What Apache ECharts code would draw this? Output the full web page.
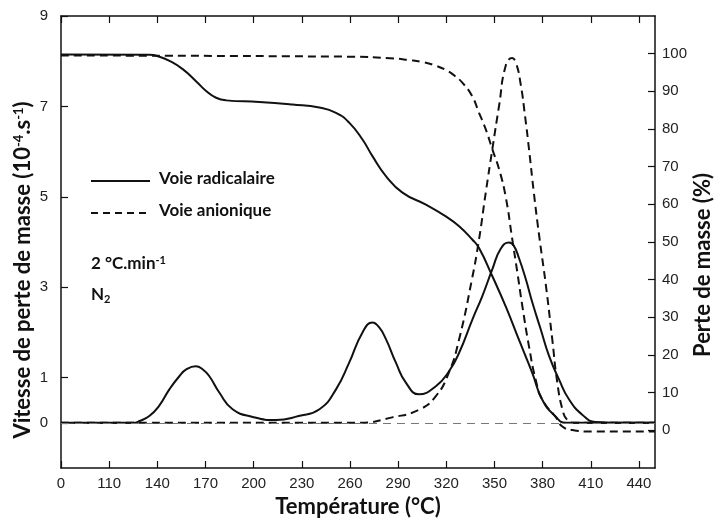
<!DOCTYPE html>
<html>
<head>
<meta charset="utf-8">
<script src="https://cdn.jsdelivr.net/npm/echarts@6/dist/echarts.min.js"></script>
<style>html,body{margin:0;padding:0;background:#fff}#chart{width:715px;height:518px}</style>
</head>
<body>
<div id="chart"></div>
<script>
// axe des températures : la 1re graduation (80) est étiquetée "0" sur l'original
var xTicks = [80, 110, 140, 170, 200, 230, 260, 290, 320, 350, 380, 410, 440];
var xTickLabels = ['0', '110', '140', '170', '200', '230', '260', '290', '320', '350', '380', '410', '440'];
var leftTicks = [0, 1, 3, 5, 7, 9];
var rightTicks = [0, 10, 20, 30, 40, 50, 60, 70, 80, 90, 100];

// vitesse de perte de masse, voie radicalaire (axe gauche)
var dtgRadT = [80, 110, 125, 129, 135, 141, 147.5, 153.7, 158, 164, 168, 172.4, 178.6, 186.9, 199.4, 214, 228, 241, 251.3, 259.5, 267.8, 274, 278, 282.4, 288.6, 294.8, 303, 313.5, 321.7, 328, 336.3, 342.5, 348.7, 353.9, 359.1, 362, 365.3, 369.5, 373.6, 378.8, 384, 390.2, 396.4, 404.7, 413, 430, 450];
var dtgRadV = [0, 0, 0, 0.04, 0.15, 0.37, 0.74, 1.03, 1.18, 1.25, 1.19, 1.03, 0.67, 0.30, 0.13, 0.06, 0.15, 0.30, 0.74, 1.33, 2.0, 2.22, 2.12, 1.85, 1.33, 0.89, 0.63, 0.81, 1.14, 1.55, 2.29, 2.81, 3.40, 3.85, 3.99, 3.92, 3.64, 3.18, 2.66, 2.07, 1.48, 0.96, 0.52, 0.18, 0.02, 0, 0];

// vitesse de perte de masse, voie anionique (axe gauche)
var dtgAniT = [80, 265.7, 286.3, 303.1, 313.5, 321.7, 328, 336, 340.4, 344.6, 348.7, 352.9, 357, 361, 363.5, 366.3, 369, 371.5, 374.5, 377.8, 382, 386, 389.1, 392.3, 395.2, 400, 450];
var dtgAniV = [0, 0, 0.12, 0.29, 0.59, 1.12, 1.85, 3.18, 4.06, 5.1, 6.06, 7.02, 7.9, 8.07, 7.95, 7.5, 6.8, 6.06, 5.1, 4.15, 3.05, 1.85, 0.9, 0.3, 0.07, 0, 0];

// perte de masse (%), voie radicalaire (axe droit)
var tgRadT = [80, 135, 141.3, 147.5, 155.8, 164.1, 170.4, 176.6, 182.8, 203.5, 224.2, 240.9, 251.3, 259.5, 267.8, 274, 282.4, 292.7, 307.3, 319.7, 328, 336.3, 340.4, 348.7, 357, 365.3, 373.6, 379.8, 388.2, 394.4, 410, 450];
var tgRadV = [99.8, 99.7, 99.2, 98.1, 95.9, 92.7, 90.1, 88.3, 87.6, 87.2, 86.5, 85.7, 84.3, 81.7, 77.2, 72.8, 67.5, 63.1, 59.9, 56.8, 54.2, 50.6, 48.4, 40.9, 32.9, 24.0, 15.2, 8.1, 3.6, 2.0, 2.0, 2.0];

// perte de masse (%), voie anionique (axe droit)
var tgAniT = [80, 260, 285, 297, 305, 313.5, 320, 325, 330, 336, 340.4, 344.6, 348.7, 352.9, 357, 361, 364.3, 367.4, 371.5, 375.7, 379.8, 388, 392.3, 398.5, 410, 450];
var tgAniV = [99.5, 99.2, 98.8, 98.3, 97.8, 96.8, 95.6, 94.2, 92.3, 88.8, 84.3, 79.9, 74.6, 69.3, 62, 51, 41.8, 32.9, 22.3, 13.4, 8.1, 3.6, 1.0, 0.1, -0.3, -0.3];

function pairs(t, v) {
    var out = [];
    for (var i = 0; i < t.length; i++) out.push([t[i], v[i]]);
    return out;
}

var ink = '#111';
var dash = [8, 5];
var tickFont = {color: '#222', fontSize: 15, fontFamily: 'Liberation Sans'};
var titleFont = {color: ink, fontSize: 22, fontWeight: 'bold', fontFamily: 'Lato'};
var supStyle = {fontSize: 13, fontWeight: 'bold', fontFamily: 'Lato', color: ink, verticalAlign: 'top', lineHeight: 13};
var axisLine = {show: true, onZero: false, lineStyle: {color: ink, width: 1.5}};

function tickStyle(values) {
    return {show: true, inside: true, length: 7, customValues: values, lineStyle: {color: ink, width: 1.2}};
}

var chart = echarts.init(document.getElementById('chart'), null, {renderer: 'canvas'});
var option = {
    backgroundColor: '#fff',
    animation: false,
    grid: {left: 61, right: 60, top: 16, bottom: 50, show: false, outerBoundsMode: 'none'},
    xAxis: [{
        type: 'value',
        min: 80,
        max: 450,
        position: 'bottom',
        name: 'Température (°C)',
        nameLocation: 'middle',
        nameGap: 27,
        nameTextStyle: titleFont,
        axisLine: axisLine,
        axisTick: tickStyle(xTicks),
        axisLabel: {
            customValues: xTicks,
            margin: 8,
            formatter: function (v) { return xTickLabels[xTicks.indexOf(v)]; },
            color: tickFont.color, fontSize: tickFont.fontSize, fontFamily: tickFont.fontFamily
        },
        splitLine: {show: false}
    }, {
        type: 'value',
        min: 80,
        max: 450,
        position: 'top',
        axisLine: axisLine,
        axisTick: tickStyle(xTicks),
        axisLabel: {show: false},
        splitLine: {show: false}
    }],
    yAxis: [{
        type: 'value',
        min: -1,
        max: 9,
        position: 'left',
        name: 'Vitesse de perte de masse (10{sup|-4}.s{sup|-1})',
        nameLocation: 'middle',
        nameRotate: 90,
        nameGap: 27,
        nameMoveOverlap: false,
        nameTextStyle: {
            color: ink, fontSize: 22, fontWeight: 'bold', fontFamily: 'Lato',
            padding: [0, 56, 0, 0],
            rich: {sup: supStyle}
        },
        axisLine: axisLine,
        axisTick: tickStyle(leftTicks),
        axisLabel: {customValues: leftTicks, margin: 13, color: tickFont.color, fontSize: tickFont.fontSize, fontFamily: tickFont.fontFamily},
        splitLine: {show: false}
    }, {
        type: 'value',
        min: -10,
        max: 110,
        position: 'right',
        name: 'Perte de masse (%)',
        nameLocation: 'middle',
        nameRotate: 90,
        nameGap: 37,
        nameMoveOverlap: false,
        nameTextStyle: {
            color: ink, fontSize: 22, fontWeight: 'bold', fontFamily: 'Lato',
            padding: [0, 46, 0, 0]
        },
        axisLine: axisLine,
        axisTick: tickStyle(rightTicks),
        axisLabel: {customValues: rightTicks, margin: 7, color: tickFont.color, fontSize: tickFont.fontSize, fontFamily: tickFont.fontFamily},
        splitLine: {show: false}
    }],
    series: [{
        name: 'Voie radicalaire (vitesse)',
        type: 'line',
        yAxisIndex: 0,
        data: pairs(dtgRadT, dtgRadV),
        showSymbol: false,
        smooth: 0.5,
        lineStyle: {color: ink, width: 2},
        markLine: {
            silent: true,
            symbol: 'none',
            label: {show: false},
            lineStyle: {color: '#777', width: 1, type: [8, 6]},
            data: [{yAxis: 0}]
        },
        z: 3
    }, {
        name: 'Voie anionique (vitesse)',
        type: 'line',
        yAxisIndex: 0,
        data: pairs(dtgAniT, dtgAniV),
        showSymbol: false,
        smooth: 0.5,
        lineStyle: {color: ink, width: 2, type: dash},
        z: 3
    }, {
        name: 'Voie radicalaire (perte)',
        type: 'line',
        yAxisIndex: 1,
        data: pairs(tgRadT, tgRadV),
        showSymbol: false,
        smooth: 0.5,
        lineStyle: {color: ink, width: 2},
        z: 3
    }, {
        name: 'Voie anionique (perte)',
        type: 'line',
        yAxisIndex: 1,
        data: pairs(tgAniT, tgAniV),
        showSymbol: false,
        smooth: 0.5,
        lineStyle: {color: ink, width: 2, type: dash},
        z: 3
    }],
    graphic: [
        // légende
        {type: 'line', shape: {x1: 91, y1: 181, x2: 150, y2: 181}, style: {stroke: ink, lineWidth: 2}},
        {type: 'text', left: 159, top: 170, style: {text: 'Voie radicalaire', fill: ink, font: 'bold 17px Lato'}},
        {type: 'line', shape: {x1: 91, y1: 213, x2: 150, y2: 213}, style: {stroke: ink, lineWidth: 2, lineDash: [7, 5]}},
        {type: 'text', left: 159, top: 202, style: {text: 'Voie anionique', fill: ink, font: 'bold 17px Lato'}},
        // conditions
        {type: 'text', left: 91, top: 255, style: {
            text: '2 °C.min{sup|-1}', fill: ink, font: 'bold 17px Lato',
            rich: {sup: {fontSize: 11, fontWeight: 'bold', fontFamily: 'Lato', fill: ink, verticalAlign: 'top'}}
        }},
        {type: 'text', left: 91, top: 286, style: {
            text: 'N{sub|2}', fill: ink, font: 'bold 17px Lato',
            rich: {sub: {fontSize: 11, fontWeight: 'bold', fontFamily: 'Lato', fill: ink, verticalAlign: 'bottom', padding: [9, 0, 0, 0]}}
        }}
    ]
};
chart.setOption(option);
</script>
</body>
</html>
